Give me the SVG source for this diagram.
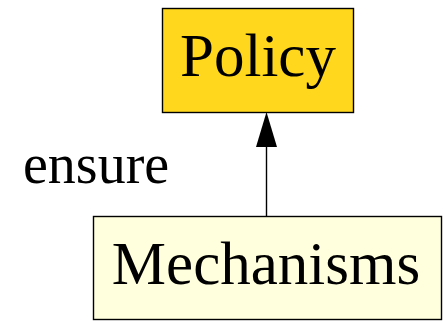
<svg xmlns="http://www.w3.org/2000/svg" width="445" height="321" viewBox="0 0 445 321">
  <style>
    .node rect { stroke: #000; stroke-width: 1.4; }
    .label { font-family: "Liberation Serif", "Times New Roman", serif; fill: #000; }
    .edge { stroke: #000; stroke-width: 1.4; fill: none; }
  </style>
  <rect width="445" height="321" fill="#fff"/>
  <g id="edges">
    <line class="edge" x1="266.5" y1="216" x2="266.5" y2="147"/>
    <path d="M266.5 112 L277 147 L256 147 Z" fill="#000"/>
    <text class="label" x="23" y="183" font-size="56">ensure</text>
  </g>
  <g id="policy" class="node">
    <rect x="162.5" y="8.5" width="191" height="104" fill="#FFD71C"/>
    <text class="label" x="258" y="76" font-size="61" text-anchor="middle">Policy</text>
  </g>
  <g id="mechanisms" class="node">
    <rect x="93.5" y="216.5" width="348" height="103" fill="#FFFFDD"/>
    <text class="label" x="266" y="284" font-size="61" text-anchor="middle">Mechanisms</text>
  </g>
</svg>
